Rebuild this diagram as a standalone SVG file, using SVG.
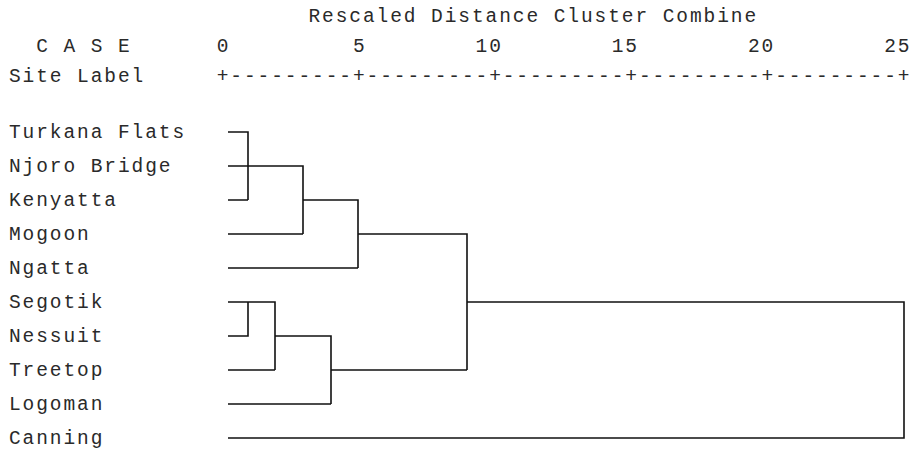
<svg xmlns="http://www.w3.org/2000/svg" width="913" height="452" viewBox="0 0 913 452">
<style>
text{font-family:"Liberation Mono","Courier New",monospace;font-size:19.5px;letter-spacing:1.92px;fill:#2a2a2a;white-space:pre}
.c{fill:none;stroke:#111;stroke-width:1.6}
</style>
<rect width="913" height="452" fill="#fff"/>
<g id="header">
<text x="308.5" y="22" xml:space="preserve">Rescaled Distance Cluster Combine</text>
<text x="9" y="52" xml:space="preserve">  C A S E</text>
<text x="216.7" y="52" xml:space="preserve">0         5        10        15        20        25</text>
<text x="9" y="82" xml:space="preserve">Site Label</text>
<text x="216.7" y="82" xml:space="preserve">+---------+---------+---------+---------+---------+</text>
</g>
<g id="node-turkana"><text x="9" y="138">Turkana Flats</text></g>
<g id="node-njoro"><text x="9" y="172">Njoro Bridge</text></g>
<g id="node-kenyatta"><text x="9" y="206">Kenyatta</text></g>
<g id="node-mogoon"><text x="9" y="240">Mogoon</text></g>
<g id="node-ngatta"><text x="9" y="274">Ngatta</text></g>
<g id="node-segotik"><text x="9" y="308">Segotik</text></g>
<g id="node-nessuit"><text x="9" y="342">Nessuit</text></g>
<g id="node-treetop"><text x="9" y="376">Treetop</text></g>
<g id="node-logoman"><text x="9" y="410">Logoman</text></g>
<g id="node-canning"><text x="9" y="444">Canning</text></g>
<g id="connectors" class="c">
<path d="M228 132 H248 V200 M228 200 H248"/>
<path d="M228 166 H303 V234 M228 234 H303"/>
<path d="M303 200 H358 V268 M228 268 H358"/>
<path d="M358 234 H467 V370 M331 370 H467"/>
<path d="M228 302 H275 V370 M248 302 V336 H228 M228 370 H275"/>
<path d="M275 336 H331 V404 M228 404 H331"/>
<path d="M467 302 H904 V438 H228"/>
</g>
</svg>
